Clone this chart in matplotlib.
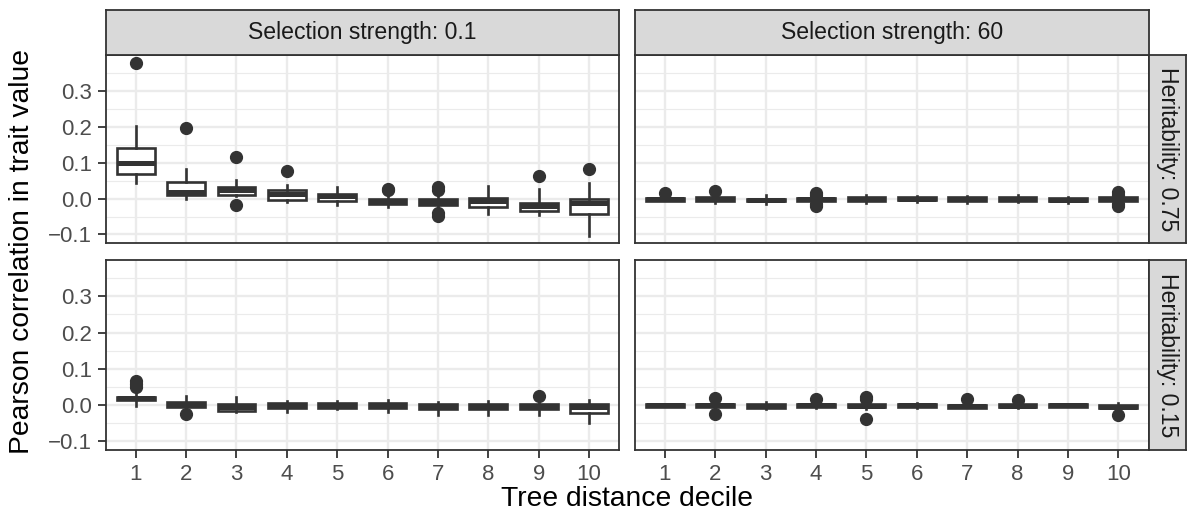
import numpy as np
import matplotlib
matplotlib.use('Agg')
import matplotlib.pyplot as plt

plt.rcParams['font.family'] = ['Liberation Sans', 'DejaVu Sans']

# 分面标签
col_labels = ['Selection strength: 0.1', 'Selection strength: 60']
row_labels = ['Heritability: 0.75', 'Heritability: 0.15']
deciles = [str(i) for i in range(1, 11)]

# 选择强度 0.1, 遗传力 0.75
s01_h75_whislo = [0.044, 0.000, 0.007, -0.010, -0.018, -0.023, -0.030, -0.042, -0.047, -0.105]
s01_h75_q1 = [0.068, 0.010, 0.011, -0.003, -0.007, -0.016, -0.018, -0.024, -0.036, -0.042]
s01_h75_med = [0.098, 0.019, 0.023, 0.014, 0.006, -0.008, -0.010, -0.008, -0.021, -0.013]
s01_h75_q3 = [0.140, 0.047, 0.033, 0.023, 0.013, -0.001, -0.001, 0.002, -0.011, -0.001]
s01_h75_whishi = [0.203, 0.083, 0.051, 0.039, 0.032, 0.008, 0.012, 0.036, 0.027, 0.044]
s01_h75_out = [[0.377], [0.198], [0.115, -0.017], [0.076], [], [0.028, 0.024],
               [0.032, 0.025, -0.040, -0.048], [], [0.063], [0.082]]

# 选择强度 60, 遗传力 0.75
s60_h75_whislo = [-0.008, -0.011, -0.014, -0.010, -0.012, -0.009, -0.012, -0.010, -0.011, -0.010]
s60_h75_q1 = [-0.006, -0.007, -0.008, -0.006, -0.006, -0.005, -0.007, -0.006, -0.007, -0.006]
s60_h75_med = [-0.002, -0.002, -0.004, -0.002, -0.001, 0.000, -0.002, -0.001, -0.003, -0.002]
s60_h75_q3 = [0.001, 0.003, 0.000, 0.002, 0.004, 0.005, 0.003, 0.004, 0.002, 0.003]
s60_h75_whishi = [0.004, 0.006, 0.009, 0.006, 0.010, 0.008, 0.007, 0.009, 0.005, 0.007]
s60_h75_out = [[0.016], [0.022], [], [0.015, 0.010, -0.015, -0.022], [], [], [], [], [],
               [0.018, 0.010, -0.016, -0.021]]

# 选择强度 0.1, 遗传力 0.15
s01_h15_whislo = [-0.003, -0.006, -0.020, -0.018, -0.010, -0.018, -0.026, -0.026, -0.027, -0.049]
s01_h15_q1 = [0.014, -0.004, -0.016, -0.009, -0.007, -0.009, -0.012, -0.010, -0.011, -0.023]
s01_h15_med = [0.019, 0.004, -0.006, 0.000, 0.001, 0.000, -0.005, -0.002, -0.003, -0.004]
s01_h15_q3 = [0.023, 0.009, 0.002, 0.006, 0.007, 0.005, 0.002, 0.003, 0.002, 0.003]
s01_h15_whishi = [0.030, 0.025, 0.022, 0.010, 0.012, 0.014, 0.008, 0.012, 0.010, 0.013]
s01_h15_out = [[0.066, 0.058, 0.050], [-0.024], [], [], [], [], [], [], [0.026], []]

# 选择强度 60, 遗传力 0.15
s60_h15_whislo = [-0.005, -0.009, -0.010, -0.007, -0.010, -0.008, -0.009, -0.008, -0.006, -0.012]
s60_h15_q1 = [-0.004, -0.005, -0.007, -0.005, -0.006, -0.006, -0.007, -0.005, -0.005, -0.008]
s60_h15_med = [-0.001, 0.000, -0.002, -0.001, -0.002, -0.001, -0.003, -0.002, -0.001, -0.004]
s60_h15_q3 = [0.002, 0.003, 0.004, 0.003, 0.002, 0.004, 0.001, 0.002, 0.003, 0.000]
s60_h15_whishi = [0.004, 0.006, 0.008, 0.006, 0.006, 0.007, 0.005, 0.006, 0.004, 0.006]
s60_h15_out = [[], [0.020, -0.024], [], [0.017], [0.022, 0.017, -0.038], [], [0.017], [0.013], [],
               [-0.026]]

panels = [
    [(s01_h75_whislo, s01_h75_q1, s01_h75_med, s01_h75_q3, s01_h75_whishi, s01_h75_out),
     (s60_h75_whislo, s60_h75_q1, s60_h75_med, s60_h75_q3, s60_h75_whishi, s60_h75_out)],
    [(s01_h15_whislo, s01_h15_q1, s01_h15_med, s01_h15_q3, s01_h15_whishi, s01_h15_out),
     (s60_h15_whislo, s60_h15_q1, s60_h15_med, s60_h15_q3, s60_h15_whishi, s60_h15_out)],
]

W, H = 1187, 516
dark = '#333333'
grid_col = '#EBEBEB'

fig = plt.figure(figsize=(W / 100, H / 100), dpi=100)


def px(x0, y0, x1, y1):
    '''像素坐标 -> figure 比例'''
    return [x0 / W, 1 - y1 / H, (x1 - x0) / W, (y1 - y0) / H]


col_x = [(105.5, 619.3), (634.7, 1148.5)]
row_y = [(55, 243), (260, 450)]

for r in range(2):
    for c in range(2):
        x0, x1 = col_x[c]
        y0, y1 = row_y[r]
        ax = fig.add_axes(px(x0, y0, x1, y1))
        whislo, q1, med, q3, whishi, out = panels[r][c]
        stats = []
        for i in range(10):
            stats.append(dict(whislo=whislo[i], q1=q1[i], med=med[i], q3=q3[i],
                              whishi=whishi[i], fliers=out[i]))
        ax.bxp(stats, positions=np.arange(1, 11), widths=0.75, showcaps=False,
               patch_artist=True,
               boxprops=dict(facecolor='white', edgecolor=dark, linewidth=1.9),
               medianprops=dict(color=dark, linewidth=3.6, solid_capstyle='butt'),
               whiskerprops=dict(color=dark, linewidth=1.9),
               flierprops=dict(marker='o', markerfacecolor=dark, markeredgecolor=dark,
                               markersize=8.5, linestyle='none'),
               zorder=3)
        ax.set_xlim(0.4, 10.6)
        ax.set_ylim(-0.1238, 0.4)
        ax.set_yticks([-0.1, 0.0, 0.1, 0.2, 0.3])
        ax.set_yticks([-0.05, 0.05, 0.15, 0.25, 0.35], minor=True)
        ax.set_xticks(np.arange(1, 11))
        ax.grid(True, which='major', color=grid_col, linewidth=1.7, zorder=0)
        ax.grid(True, which='minor', axis='y', color=grid_col, linewidth=0.85, zorder=0)
        ax.set_axisbelow(True)
        for s in ax.spines.values():
            s.set_color(dark)
            s.set_linewidth(1.3)
        ax.tick_params(which='major', length=5.8, width=1.3, color=dark,
                       labelsize=16, labelcolor='#4D4D4D', pad=4)
        ax.tick_params(which='minor', length=0)
        if c == 0:
            ax.set_yticklabels(['\u22120.1', '0.0', '0.1', '0.2', '0.3'])
        else:
            ax.tick_params(axis='y', which='major', length=0, labelleft=False)
        if r == 1:
            ax.set_xticklabels(deciles)
        else:
            ax.tick_params(axis='x', which='major', length=0, labelbottom=False)

        # 顶部分面条
        if r == 0:
            sax = fig.add_axes(px(x0, 10.5, x1, 55))
            sax.set_facecolor('#D9D9D9')
            sax.set_xticks([])
            sax.set_yticks([])
            for s in sax.spines.values():
                s.set_color(dark)
                s.set_linewidth(1.3)
            sax.text(0.5, 0.5, col_labels[c], ha='center', va='center', fontsize=16.6,
                     color='#1A1A1A', transform=sax.transAxes)
        # 右侧分面条
        if c == 1:
            sax = fig.add_axes(px(1148.5, y0, 1186, y1))
            sax.set_facecolor('#D9D9D9')
            sax.set_xticks([])
            sax.set_yticks([])
            for s in sax.spines.values():
                s.set_color(dark)
                s.set_linewidth(1.3)
            sax.text(0.5, 0.5, row_labels[r], ha='center', va='center', fontsize=16.6,
                     color='#1A1A1A', rotation=-90, transform=sax.transAxes)

fig.text(22 / W, 1 - 252 / H, 'Pearson correlation in trait value', rotation=90,
         ha='center', va='center', fontsize=20.3, color='black')
fig.text(627 / W, 1 - 499 / H, 'Tree distance decile', ha='center', va='center',
         fontsize=20.3, color='black')

fig.savefig('out.png', dpi=100)
